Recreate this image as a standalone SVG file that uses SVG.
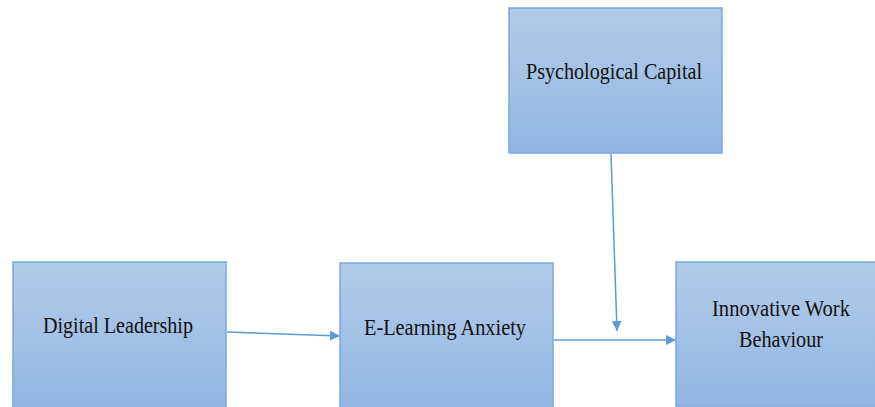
<svg xmlns="http://www.w3.org/2000/svg" width="875" height="407" viewBox="0 0 875 407">
<style>
.box{fill:url(#g);stroke:#7ba7dc;stroke-width:1.5}
.t{font-family:"Liberation Serif","Times New Roman",serif;font-size:23px;fill:#111111;text-anchor:middle}
.c{stroke:#5b9bd5;stroke-width:1.5;fill:none;marker-end:url(#a)}
</style>
<defs>
<linearGradient id="g" x1="0" y1="0" x2="0" y2="1">
<stop offset="0" stop-color="#b1cce9"/>
<stop offset="1" stop-color="#92b6e2"/>
</linearGradient>
<marker id="a" viewBox="0 0 10 10" refX="10" refY="5" markerWidth="10" markerHeight="10" markerUnits="userSpaceOnUse" orient="auto">
<path d="M0,0 L10,5 L0,10 z" fill="#5b9bd5"/>
</marker>
</defs>
<g id="connectors">
<line class="c" x1="227" y1="332" x2="340" y2="336"/>
<line class="c" x1="554" y1="340" x2="676" y2="340"/>
<line class="c" x1="611" y1="154" x2="617" y2="331"/>
</g>
<g id="psychological-capital">
<rect class="box" x="509" y="8" width="213" height="145"/>
<text class="t" x="614" y="79" textLength="176" lengthAdjust="spacingAndGlyphs">Psychological Capital</text>
</g>
<g id="digital-leadership">
<rect class="box" x="13" y="262" width="213" height="146"/>
<text class="t" x="118" y="333" textLength="150" lengthAdjust="spacingAndGlyphs">Digital Leadership</text>
</g>
<g id="e-learning-anxiety">
<rect class="box" x="340" y="263" width="213" height="146"/>
<text class="t" x="445" y="335" textLength="162" lengthAdjust="spacingAndGlyphs">E-Learning Anxiety</text>
</g>
<g id="innovative-work-behaviour">
<rect class="box" x="676" y="262" width="213" height="144"/>
<text class="t" x="781" y="316" textLength="138" lengthAdjust="spacingAndGlyphs">Innovative Work</text>
<text class="t" x="781" y="347" textLength="84" lengthAdjust="spacingAndGlyphs">Behaviour</text>
</g>
</svg>
